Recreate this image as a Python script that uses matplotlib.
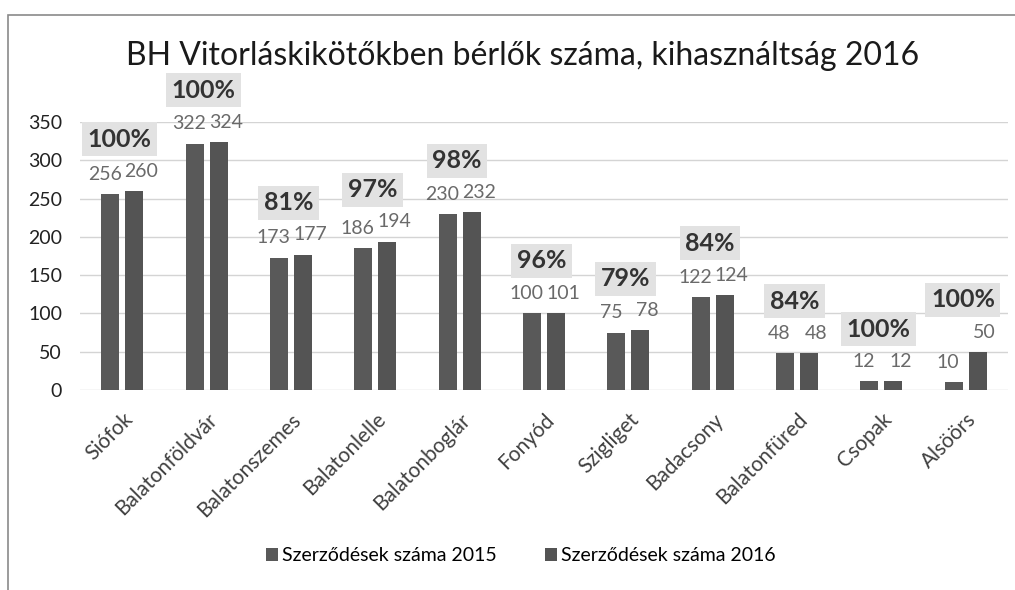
import matplotlib
matplotlib.use('Agg')
import matplotlib.pyplot as plt
import numpy as np

plt.rcParams['font.family'] = ['Lato', 'DejaVu Sans']

helyek = ['Siófok', 'Balatonföldvár', 'Balatonszemes', 'Balatonlelle', 'Balatonboglár',
          'Fonyód', 'Szigliget', 'Badacsony', 'Balatonfüred', 'Csopak', 'Alsöörs']
szerz_2015 = [256, 322, 173, 186, 230, 100, 75, 122, 48, 12, 10]
szerz_2016 = [260, 324, 177, 194, 232, 101, 78, 124, 48, 12, 50]
kihasznaltsag = ['100%', '100%', '81%', '97%', '98%', '96%', '79%', '84%', '84%', '100%', '100%']

fig = plt.figure(figsize=(10.15, 5.9), dpi=100)
ax = fig.add_axes([0.079, 0.339, 0.914, 0.454])

x = np.arange(len(helyek))
off = 0.142
w = 0.213
b1 = ax.bar(x - off, szerz_2015, w, color='#595959', label='Szerződések száma 2015', zorder=3)
b2 = ax.bar(x + off, szerz_2016, w, color='#545454', label='Szerződések száma 2016', zorder=3)

for i in range(len(helyek)):
    ax.annotate(str(szerz_2015[i]), (x[i] - off, szerz_2015[i]), xytext=(-4, 8),
                textcoords='offset points', ha='center', va='bottom', fontsize=14,
                color='#6a6a6a', annotation_clip=False)
    ax.annotate(str(szerz_2016[i]), (x[i] + off, szerz_2016[i]), xytext=(5, 8),
                textcoords='offset points', ha='center', va='bottom', fontsize=14,
                color='#6a6a6a', annotation_clip=False)
    top = max(szerz_2015[i], szerz_2016[i])
    ax.annotate(kihasznaltsag[i], (x[i], top), xytext=(-2, 29),
                textcoords='offset points', ha='center', va='bottom', fontsize=18,
                fontweight='bold', color='#333333', annotation_clip=False,
                bbox=dict(boxstyle='square,pad=0.22', fc='#e2e2e2', ec='none'))

ax.set_xlim(-0.5, len(helyek) - 0.5)
ax.set_ylim(0, 350)
ax.set_yticks(range(0, 351, 50))
ax.set_xticks(x)
ax.set_xticklabels(helyek, rotation=45, ha='right', va='top', rotation_mode='anchor',
                   fontsize=15, color='#404040')
ax.tick_params(axis='y', labelsize=14, colors='#222222', length=0, pad=13)
ax.tick_params(axis='x', length=0, pad=14)
ax.grid(axis='y', color='#d4d4d4', linewidth=1, zorder=0)
for s in ax.spines.values():
    s.set_visible(False)

fig.text(0.515, 0.905, 'BH Vitorláskikötőkben bérlők száma, kihasználtság 2016',
         ha='center', va='center', fontsize=23, color='#1a1a1a')

fig.legend(handles=[b1, b2], loc='center', bbox_to_anchor=(0.513, 0.058), ncol=2,
           frameon=False, fontsize=14, handlelength=0.6, handleheight=0.6,
           handletextpad=0.2, columnspacing=2.5)

fig.add_artist(plt.Rectangle((0.008, -0.1), 1.2, 1.075, transform=fig.transFigure,
                             fill=False, ec='#8a8a8a', lw=1.2))

fig.savefig('out.png', dpi=100)
